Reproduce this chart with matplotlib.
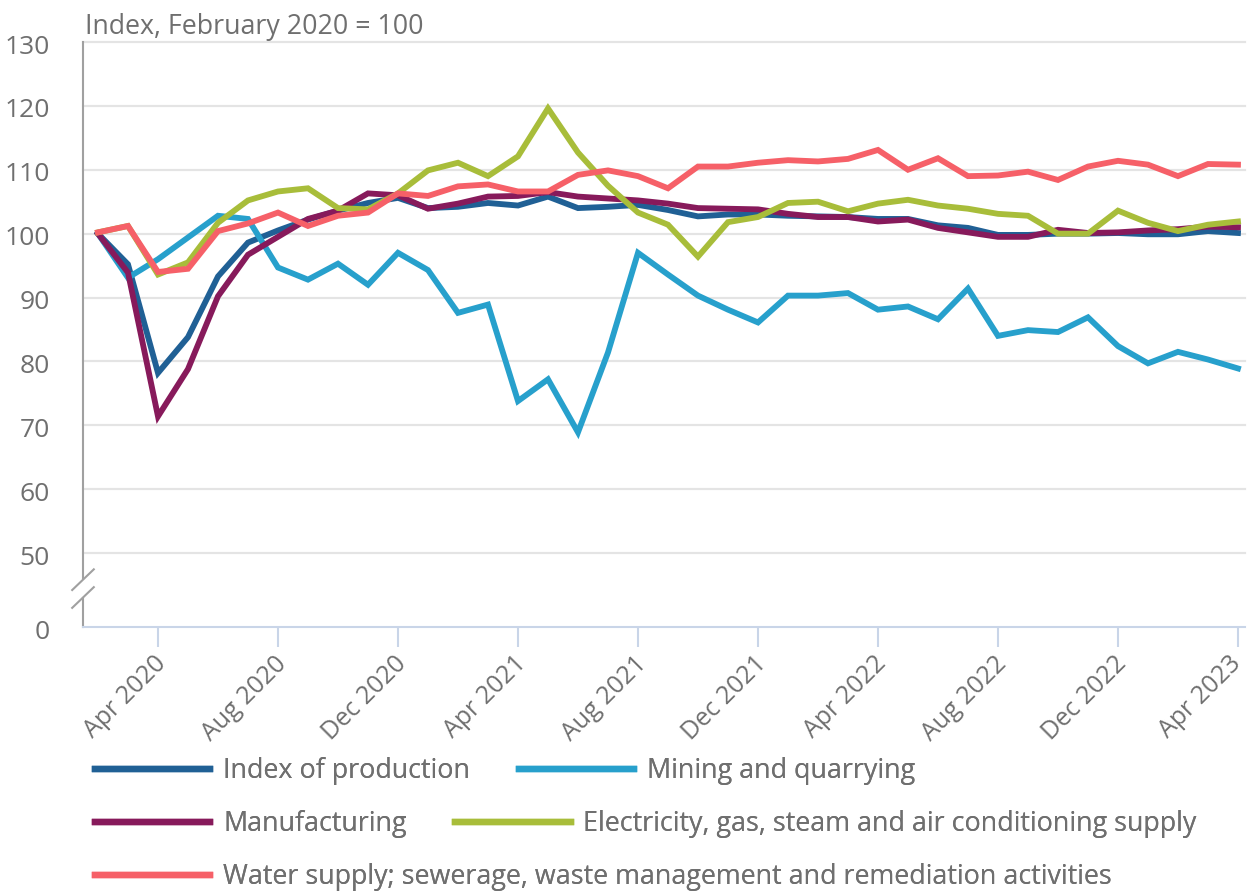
import numpy as np
import matplotlib
matplotlib.use("Agg")
import matplotlib.pyplot as plt
import matplotlib.transforms as mtransforms

plt.rcParams['font.family'] = ['Open Sans', 'DejaVu Sans']

# monthly index, Feb 2020 .. Apr 2023 (Feb 2020 = 100)
months = np.arange(39)
tick_pos = np.arange(2, 39, 4)
tick_labels = ['Apr 2020', 'Aug 2020', 'Dec 2020', 'Apr 2021', 'Aug 2021', 'Dec 2021',
               'Apr 2022', 'Aug 2022', 'Dec 2022', 'Apr 2023']

production = [100, 95.2, 78.2, 83.8, 93.3, 98.6, 100.5, 102.2, 103.6, 104.8,
              105.6, 104.0, 104.2, 104.8, 104.4, 105.8, 104.0, 104.2, 104.5, 103.7,
              102.7, 103.0, 103.0, 102.8, 102.7, 102.6, 102.3, 102.3, 101.3, 100.9,
              99.8, 99.8, 100.0, 100.0, 100.1, 99.9, 99.9, 100.4, 100.1]
mining = [100, 93.1, 96.0, 99.4, 102.8, 102.3, 94.7, 92.8, 95.3, 92.0,
          97.0, 94.3, 87.6, 88.9, 73.8, 77.2, 68.9, 81.4, 97.0, 93.6,
          90.3, 88.1, 86.1, 90.3, 90.3, 90.7, 88.1, 88.6, 86.6, 91.4,
          84.0, 84.9, 84.6, 86.9, 82.4, 79.7, 81.5, 80.3, 78.9]
manufacturing = [100, 93.9, 71.4, 78.8, 90.2, 96.7, 99.5, 102.3, 103.6, 106.3,
                 106.0, 103.9, 104.7, 105.8, 105.9, 106.5, 105.8, 105.5, 105.2, 104.7,
                 104.0, 103.9, 103.8, 103.1, 102.6, 102.6, 101.9, 102.2, 100.9, 100.2,
                 99.5, 99.5, 100.6, 100.1, 100.2, 100.5, 100.7, 101.1, 101.0]
electricity = [100.2, 101.2, 93.6, 95.5, 101.7, 105.2, 106.6, 107.1, 104.0, 103.8,
               106.3, 109.9, 111.1, 109.0, 112.1, 119.6, 112.7, 107.5, 103.3, 101.4,
               96.4, 101.8, 102.6, 104.8, 105.0, 103.5, 104.7, 105.3, 104.4, 103.9,
               103.1, 102.8, 100.0, 100.0, 103.6, 101.7, 100.4, 101.4, 101.9]
water = [100.2, 101.2, 94.0, 94.5, 100.4, 101.6, 103.3, 101.2, 102.8, 103.3,
         106.3, 105.9, 107.4, 107.7, 106.6, 106.6, 109.2, 109.9, 109.0, 107.1,
         110.5, 110.5, 111.1, 111.5, 111.3, 111.7, 113.1, 110.0, 111.8, 109.0,
         109.1, 109.7, 108.4, 110.5, 111.4, 110.8, 109.0, 110.9, 110.8]

series = [
    ('Index of production', production, '#206095'),
    ('Mining and quarrying', mining, '#27a0cc'),
    ('Manufacturing', manufacturing, '#871a5b'),
    ('Electricity, gas, steam and air conditioning supply', electricity, '#a8bd3a'),
    ('Water supply; sewerage, waste management and remediation activities', water, '#f66068'),
]

grey = '#6f6f6f'
zero_pos = 50 - 74 / 6.4   # broken axis: 0 sits just below 50

fig = plt.figure(figsize=(12.48, 8.93), dpi=100)
ax = fig.add_axes([0.0665, 0.2979, 0.931, 0.6551])

lines = []
for name, vals, col in series:
    ln, = ax.plot(months, vals, color=col, linewidth=4.2, solid_joinstyle='miter', label=name)
    lines.append(ln)

ax.set_xlim(-0.5, 38.23)
ax.set_ylim(zero_pos, 130)
ax.set_yticks([zero_pos] + list(range(50, 131, 10)))
ax.set_yticklabels(['0'] + [str(v) for v in range(50, 131, 10)])
for v in range(50, 131, 10):
    ax.axhline(v, color='#e4e4e4', linewidth=1.6, zorder=0, clip_on=False)

ax.set_xticks(tick_pos)
ax.set_xticklabels(tick_labels, rotation=45, ha='right', va='top', rotation_mode='anchor')
ax.tick_params(axis='x', length=14.5, width=1.5, color='#c9d5e8', pad=3,
               labelsize=18, labelcolor=grey)
ax.tick_params(axis='y', length=0, pad=24, labelsize=19, labelcolor=grey)
xlabs = ax.get_xticklabels()
for i, lab in enumerate(xlabs):
    dx = -3 if i < len(xlabs) - 1 else -7   # keep last label inside the figure
    lab.set_transform(lab.get_transform() + mtransforms.ScaledTranslation(dx / 72, 0, fig.dpi_scale_trans))
for lab in ax.get_yticklabels():
    lab.set_transform(lab.get_transform() + mtransforms.ScaledTranslation(0, -1.5 / 72, fig.dpi_scale_trans))

for s in ['top', 'right', 'left']:
    ax.spines[s].set_visible(False)
ax.spines['bottom'].set_color('#c9d5e8')
ax.spines['bottom'].set_linewidth(1.5)

# left spine with break marks
tr = mtransforms.blended_transform_factory(ax.transAxes, ax.transData)
ax.plot([0, 0], [46.1, 130], color='#a0a0a0', lw=1.5, transform=tr, clip_on=False)
ax.plot([0, 0], [zero_pos, 42.97], color='#a0a0a0', lw=1.5, transform=tr, clip_on=False)
for yc in [45.84, 43.05]:
    ax.plot([-0.0093, 0.0093], [yc - 1.62, yc + 1.62], color='#a0a0a0', lw=1.5,
            transform=tr, clip_on=False)

fig.text(0.068, 0.970, 'Index, February 2020 = 100', fontsize=19.3, color=grey,
         ha='left', va='center')

# legend: three rows, entries flow left to right
rows = [([0, 1], 0.1366), ([2, 3], 0.0773), ([4], 0.0179)]
for idx, ypos in rows:
    leg = fig.legend([lines[i] for i in idx], [series[i][0] for i in idx], ncol=len(idx),
                     frameon=False, loc='center left', bbox_to_anchor=(0.0761, ypos),
                     fontsize=19.4, handlelength=4.28, handletextpad=0.48,
                     columnspacing=1.8, borderpad=0, borderaxespad=0, labelcolor=grey)
    for h in leg.legend_handles:
        h.set_linewidth(4.6)
    fig.add_artist(leg)

fig.savefig('out.png', dpi=100)
